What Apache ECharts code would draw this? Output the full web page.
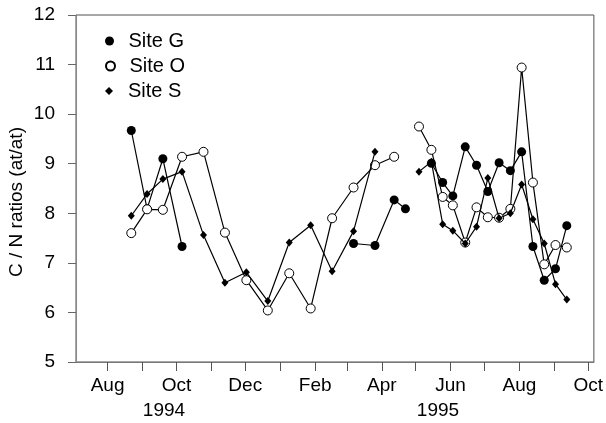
<!DOCTYPE html>
<html>
<head>
<meta charset="utf-8">
<script src="https://cdn.jsdelivr.net/npm/echarts@6/dist/echarts.min.js"></script>
<style>
  html, body { margin: 0; padding: 0; background: #fff; }
  #chart { width: 606px; height: 423px; }
</style>
</head>
<body>
<div id="chart"></div>
<script>
// C/N ratios (atomic) at three sites, 1994-1995. null marks a break in a record.
const siteGDates = ['1994-08-22', '1994-09-05', '1994-09-19', '1994-10-06', null,
  '1995-03-07', '1995-03-26', '1995-04-12', '1995-04-22', null,
  '1995-05-15', '1995-05-25', '1995-06-03', '1995-06-14', '1995-06-24', '1995-07-04',
  '1995-07-14', '1995-07-24', '1995-08-03', '1995-08-13', '1995-08-23', '1995-09-02', '1995-09-12'];
const siteGValues = [9.67, 8.09, 9.10, 7.33, null,
  7.39, 7.35, 8.27, 8.09, null,
  9.01, 8.62, 8.35, 9.34, 8.97, 8.44,
  9.02, 8.86, 9.24, 7.33, 6.65, 6.88, 7.75];

const siteODates = ['1994-08-22', '1994-09-05', '1994-09-19', '1994-10-06', '1994-10-25',
  '1994-11-13', '1994-12-02', '1994-12-21', '1995-01-09', '1995-01-28', '1995-02-16',
  '1995-03-07', '1995-03-26', '1995-04-12', null,
  '1995-05-04', '1995-05-15', '1995-05-25', '1995-06-03', '1995-06-14', '1995-06-24',
  '1995-07-04', '1995-07-14', '1995-07-24', '1995-08-03', '1995-08-13', '1995-08-23',
  '1995-09-02', '1995-09-12'];
const siteOValues = [7.60, 8.08, 8.07, 9.14, 9.24,
  7.61, 6.65, 6.04, 6.79, 6.08, 7.90,
  8.52, 8.97, 9.14, null,
  9.75, 9.28, 8.33, 8.16, 7.41, 8.12,
  7.92, 7.91, 8.09, 10.94, 8.62, 6.97,
  7.36, 7.31];

const siteSDates = ['1994-08-22', '1994-09-05', '1994-09-19', '1994-10-06', '1994-10-25',
  '1994-11-13', '1994-12-02', '1994-12-21', '1995-01-09', '1995-01-28', '1995-02-16',
  '1995-03-07', '1995-03-26', null,
  '1995-05-04', '1995-05-15', '1995-05-25', '1995-06-03', '1995-06-14', '1995-06-24',
  '1995-07-04', '1995-07-14', '1995-07-24', '1995-08-03', '1995-08-13', '1995-08-23',
  '1995-09-02', '1995-09-12'];
const siteSValues = [7.95, 8.39, 8.69, 8.84, 7.56,
  6.60, 6.81, 6.23, 7.41, 7.76, 6.83,
  7.64, 9.24, null,
  8.84, 9.04, 7.78, 7.65, 7.39, 7.73,
  8.71, 7.90, 8.00, 8.58, 7.88, 7.39,
  6.57, 6.26];

// Month ticks along the date axis, labelled every second month
const tickDates = ['1994-08-01', '1994-09-01', '1994-10-01', '1994-11-01', '1994-12-01',
  '1995-01-01', '1995-02-01', '1995-03-01', '1995-04-01', '1995-05-01', '1995-06-01',
  '1995-07-01', '1995-08-01', '1995-09-01', '1995-10-01'];
const labelDates = ['1994-08-01', '1994-10-01', '1994-12-01', '1995-02-01',
  '1995-04-01', '1995-06-01', '1995-08-01', '1995-10-01'];
const monthLabels = ['Aug', 'Oct', 'Dec', 'Feb', 'Apr', 'Jun', 'Aug', 'Oct'];
const yearLabels = ['1994', '1995'];

const FONT = '"Liberation Sans", Arial, Helvetica, sans-serif';

// dates are placed as day numbers (UTC days since the epoch)
function toDay(s) {
  const p = s.split('-').map(Number);
  return Date.UTC(p[0], p[1] - 1, p[2]) / 86400000;
}

function buildSeriesData(dates, values) {
  return dates.map(function (d, i) {
    if (d === null || values[i] === null) {
      return [toDay(dates[i - 1]), '-'];
    }
    return [toDay(d), values[i]];
  });
}

const tickDays = tickDates.map(toDay);
const labelDays = labelDates.map(toDay);

const chart = echarts.init(document.getElementById('chart'), null, { renderer: 'canvas' });

const lineStyle = { color: '#000', width: 1.2 };
const legendText = { fontSize: 20, color: '#000', fontFamily: FONT };

chart.setOption({
  animation: false,
  backgroundColor: '#fff',
  textStyle: { fontFamily: FONT },
  grid: {
    left: 76, right: 11, top: 15, bottom: 61,
    show: true, borderColor: '#505050', borderWidth: 1, backgroundColor: 'transparent'
  },
  legend: [
    {
      data: [{ name: 'Site G', icon: 'circle' }],
      left: 100, top: 26, itemWidth: 28, itemHeight: 9,
      textStyle: legendText, selectedMode: false
    },
    {
      data: [{ name: 'Site O', icon: 'circle' }],
      left: 100, top: 51, itemWidth: 28, itemHeight: 9,
      textStyle: legendText, selectedMode: false
    },
    {
      data: [{ name: 'Site S', icon: 'path://M0,-1L1,0L0,1L-1,0Z' }],
      left: 100, top: 76, itemWidth: 28, itemHeight: 8,
      textStyle: legendText, selectedMode: false
    }
  ],
  xAxis: {
    type: 'value',
    min: toDay('1994-07-04'),
    max: toDay('1995-10-06'),
    axisLine: { show: true, onZero: false, lineStyle: { color: '#777', width: 1 } },
    axisTick: { show: true, customValues: tickDays, length: 9, lineStyle: { color: '#555', width: 1 } },
    axisLabel: {
      customValues: labelDays,
      formatter: function (v) {
        const i = labelDays.indexOf(v);
        return i >= 0 ? monthLabels[i] : '';
      },
      fontSize: 19, color: '#000', margin: 14, fontFamily: FONT
    },
    splitLine: { show: false }
  },
  yAxis: {
    type: 'value',
    min: 5, max: 12, interval: 1,
    axisLine: { show: true, onZero: false, lineStyle: { color: '#888', width: 1 } },
    axisTick: { show: true, length: 8, lineStyle: { color: '#666', width: 1 } },
    axisLabel: { fontSize: 19, color: '#000', margin: 21, fontFamily: FONT },
    splitLine: { show: false }
  },
  graphic: [
    {
      type: 'text',
      x: 17, y: 202, rotation: Math.PI / 2,
      style: {
        text: 'C / N ratios (at/at)', fontSize: 19, fill: '#000', fontFamily: FONT,
        align: 'center', verticalAlign: 'middle'
      }
    },
    {
      type: 'text', x: 164, y: 411,
      style: { text: yearLabels[0], fontSize: 19, fill: '#000', fontFamily: FONT, align: 'center', verticalAlign: 'middle' }
    },
    {
      type: 'text', x: 438, y: 411,
      style: { text: yearLabels[1], fontSize: 19, fill: '#000', fontFamily: FONT, align: 'center', verticalAlign: 'middle' }
    }
  ],
  series: [
    {
      name: 'Site G', type: 'line', z: 2,
      data: buildSeriesData(siteGDates, siteGValues),
      symbol: 'circle', symbolSize: 9, showAllSymbol: true,
      itemStyle: { color: '#000' },
      lineStyle: lineStyle,
      emphasis: { disabled: true }
    },
    {
      name: 'Site O', type: 'line', z: 3,
      data: buildSeriesData(siteODates, siteOValues),
      symbol: 'circle', symbolSize: 9, showAllSymbol: true,
      itemStyle: { color: '#fff', borderColor: '#000', borderWidth: 1 },
      lineStyle: lineStyle,
      emphasis: { disabled: true }
    },
    {
      name: 'Site S', type: 'line', z: 4,
      data: buildSeriesData(siteSDates, siteSValues),
      symbol: 'diamond', symbolSize: [7, 8], showAllSymbol: true,
      itemStyle: { color: '#000' },
      lineStyle: lineStyle,
      emphasis: { disabled: true }
    }
  ]
});
</script>
</body>
</html>
